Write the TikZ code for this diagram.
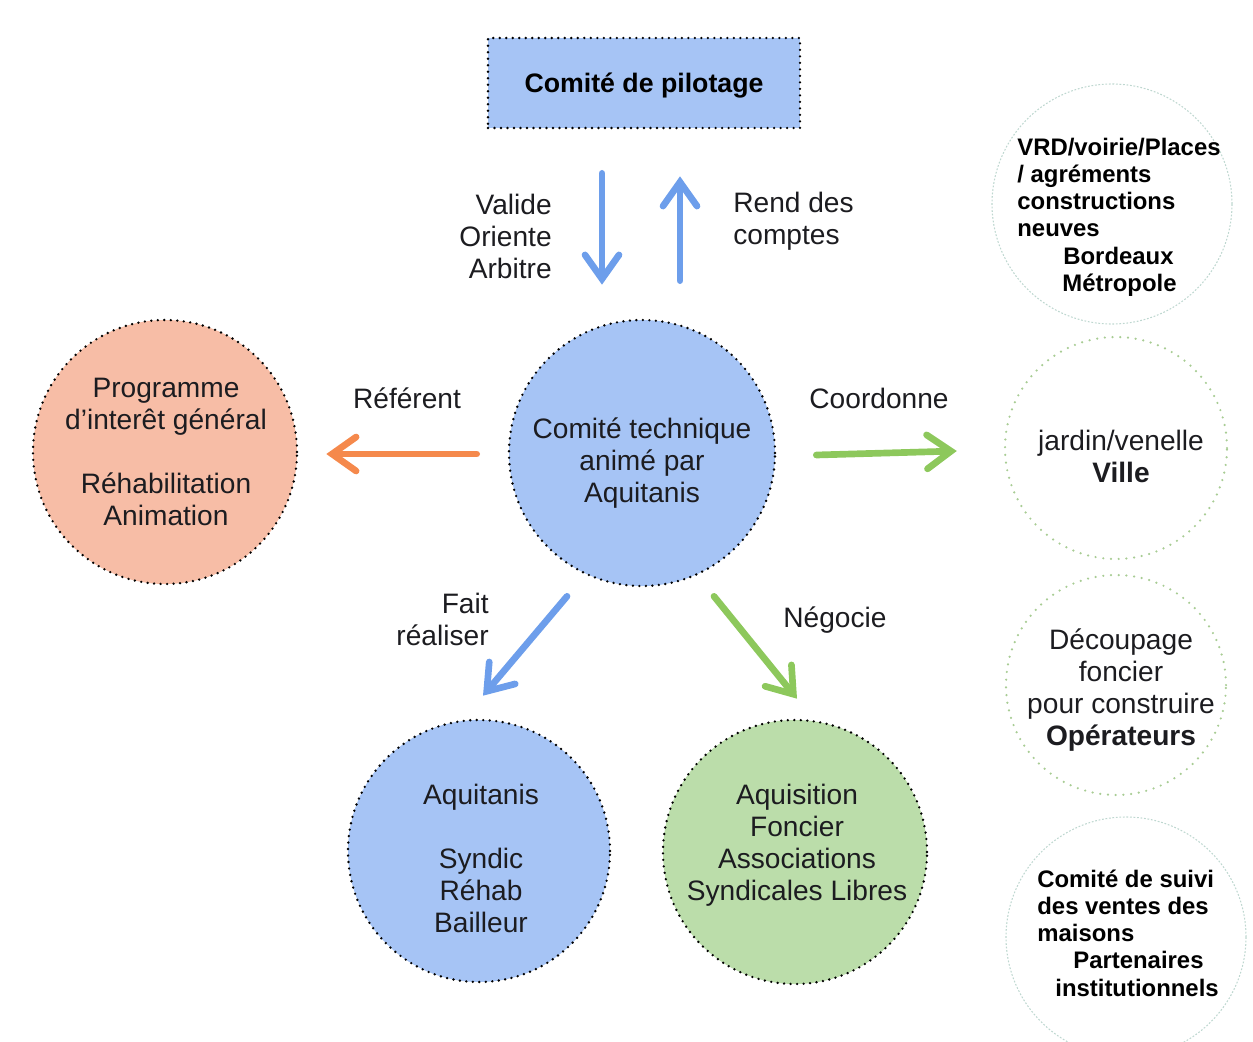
\documentclass[tikz,border=0pt]{standalone}
\usepackage{fontspec}
\setmainfont{Liberation Sans}
\usetikzlibrary{arrows.meta}

\definecolor{ink}{RGB}{28,28,32}
\definecolor{skyfill}{RGB}{166,196,245}
\definecolor{skyline}{RGB}{109,158,235}
\definecolor{peachfill}{RGB}{247,189,166}
\definecolor{orangeline}{RGB}{245,137,76}
\definecolor{mintfill}{RGB}{187,221,170}
\definecolor{greenline}{RGB}{141,200,92}
\definecolor{greendot}{RGB}{168,204,148}
\definecolor{paledot}{RGB}{190,215,208}

\begin{document}
\begin{tikzpicture}[x=0.2mm, y=-0.2mm,
  bubble/.style={circle, draw=black, line width=1.5pt, line cap=round,
    dash pattern=on 0pt off 3.7pt, inner sep=0pt},
  openbubble/.style={circle, draw=greendot, line width=1.4pt, line cap=round,
    dash pattern=on 0pt off 4.4pt, inner sep=0pt},
  faintbubble/.style={circle, draw=paledot, line width=0.6pt,
    dash pattern=on 1pt off 1pt, inner sep=0pt},
  txt/.style={font=\fontsize{16}{18.2}\selectfont, text=ink, align=center, inner sep=0pt},
  boldtxt/.style={font=\fontsize{13.6}{15.5}\selectfont\bfseries, text=black, align=left, inner sep=0pt},
  flow/.style={line width=3.8pt, line cap=round,
    -{Straight Barb[length=4.8mm, width=6.8mm, line cap=round]}}
]
\useasboundingbox (0,0) rectangle (1253,1042);
\clip (0,0) rectangle (1253,1042);

% Steering committee
\node[draw=black, fill=skyfill, line width=1.5pt, line cap=round,
  dash pattern=on 0pt off 3.7pt, minimum width=62.4mm, minimum height=18mm]
  (pilot) at (644,83) {};
\node[txt, font=\fontsize{15.2}{18}\selectfont\bfseries, text=black] (pilottxt) at (644,86) {Comité de pilotage};

% Technical committee in the middle
\node[bubble, fill=skyfill, minimum size=53.2mm] (tech) at (642,453) {};
\node[txt] (techtxt) at (642,463) {Comité technique\\animé par\\Aquitanis};

% Left: programme
\node[bubble, fill=peachfill, minimum size=52.8mm] (pig) at (165,452) {};
\node[txt] (pigtxt) at (166,452) {Programme\\d’interêt général\\[18.2pt]Réhabilitation\\Animation};

% Bottom: operators
\node[bubble, fill=skyfill, minimum size=52.4mm] (aqui) at (479,851) {};
\node[txt] (aquitxt) at (481,858) {Aquitanis\\[18.2pt]Syndic\\Réhab\\Bailleur};

\node[bubble, fill=mintfill, minimum size=52.8mm] (asl) at (795,852) {};
\node[txt] (asltxt) at (797,845) {Aquisition\\Foncier\\Associations\\Syndicales Libres};

% Right column
\node[faintbubble, minimum size=48mm] (vrd) at (1112,204) {};
\node[boldtxt, anchor=west] (vrdtxt) at (1017,217) {VRD/voirie/Places\\/ agréments\\constructions\\neuves\\\hspace*{9.2mm}Bordeaux\\\hspace*{9mm}Métropole};

\node[openbubble, minimum size=44.4mm] (jardin) at (1116,448) {};
\node[txt] (jardintxt) at (1121,456) {jardin/venelle\\\textbf{Ville}};

\node[openbubble, minimum size=44mm] (decoupe) at (1116,685) {};
\node[txt] (decoupetxt) at (1121,690) {Découpage\\foncier\\pour construire\\\textbf{Opérateurs}};

\node[faintbubble, minimum size=48mm] (suivi) at (1126,937) {};
\node[boldtxt, anchor=west] (suivitxt) at (1037,933) {Comité de suivi\\des ventes des\\maisons\\\hspace*{7.2mm}Partenaires\\\hspace*{3.6mm}institutionnels};

% Arrows
\draw[flow, skyline] ([shift={(-42,44)}]pilot.south) -- ([shift={(-40,-34)}]tech.north);
\draw[flow, skyline] ([shift={(38,-38)}]tech.north) -- ([shift={(36,47)}]pilot.south);
\draw[flow, orangeline] ([shift={(-31,1)}]tech.west) -- ([shift={(28,2)}]pig.east);
\draw[flow, greenline] ([shift={(40,2)}]tech.east) -- ([shift={(-47,3)}]jardin.west);
\draw[flow, skyline] ([shift={(-75,9)}]tech.south) -- ([shift={(4,-23)}]aqui.north);
\draw[flow, greenline] ([shift={(72,9)}]tech.south) -- ([shift={(2,-20)}]asl.north);

% Arrow labels
\node[txt, align=right, anchor=east] (valide) at (552,236) {Valide\\Oriente\\Arbitre};
\node[txt, align=left, anchor=west] (rend) at (733,221) {Rend des\\comptes};
\node[txt] (referent) at (407,398) {Référent};
\node[txt] (coordonne) at (879,398) {Coordonne};
\node[txt, align=right, anchor=east] (fait) at (489,619) {Fait\\réaliser};
\node[txt] (negocie) at (835,620) {Négocie};
\end{tikzpicture}
\end{document}
